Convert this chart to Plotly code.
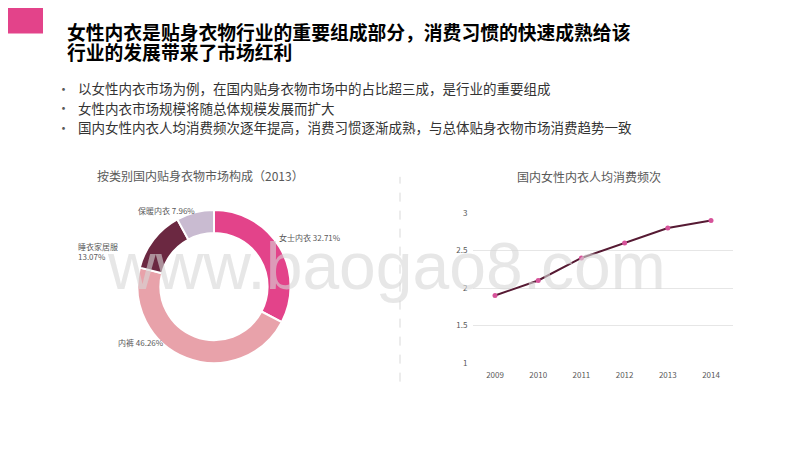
import plotly.graph_objects as go

# The page body has an 8px margin, so the figure is drawn 8px in from the
# window's top-left corner; size it to fill the rest of the 800x450 window.
OFF = 8
W, H = 800 - OFF, 450 - OFF

title_lines = ["女性内衣是贴身衣物行业的重要组成部分，消费习惯的快速成熟给该", "行业的发展带来了市场红利"]
bullets = [
    "以女性内衣市场为例，在国内贴身衣物市场中的占比超三成，是行业的重要组成",
    "女性内衣市场规模将随总体规模发展而扩大",
    "国内女性内衣人均消费频次逐年提高，消费习惯逐渐成熟，与总体贴身衣物市场消费趋势一致",
]

pie_title = "按类别国内贴身衣物市场构成（2013）"
pie_labels = ["女士内衣", "内裤", "睡衣家居服", "保暖内衣"]
pie_values = [32.71, 46.26, 13.07, 7.96]
pie_colors = ["#E3438A", "#E8A2AA", "#6B2841", "#C9BBD1"]

line_title = "国内女性内衣人均消费频次"
years = ["2009", "2010", "2011", "2012", "2013", "2014"]
freq = [1.9, 2.1, 2.4, 2.6, 2.8, 2.9]
y_ticks = [1, 1.5, 2, 2.5, 3]

CJK = "Noto Sans CJK SC"
GRAY = "#595959"


def px(x):
    return (x - OFF) / W


def py(y):
    return 1 - (y - OFF) / H


fig = go.Figure()

fig.add_trace(go.Pie(
    labels=pie_labels, values=pie_values, hole=0.70, sort=False,
    direction="clockwise", rotation=0,
    marker=dict(colors=pie_colors, line=dict(color="white", width=2)),
    textinfo="none", hoverinfo="label+percent", showlegend=False,
    domain=dict(x=[px(136), px(292)], y=[py(366), py(209)]),
))

fig.add_trace(go.Scatter(
    x=years, y=freq, mode="lines+markers",
    line=dict(color="#561A33", width=2),
    marker=dict(color="#D6539A", size=5),
    showlegend=False, xaxis="x", yaxis="y",
))

fig.update_layout(
    width=W, height=H,
    margin=dict(l=0, r=0, t=0, b=0),
    paper_bgcolor="white", plot_bgcolor="white",
    xaxis=dict(domain=[px(473.4), px(732.6)], type="category", range=[-0.5, 5.5],
               showgrid=False, zeroline=False, showline=False, ticks="",
               ticklabelstandoff=6,
               tickfont=dict(family=CJK, size=8, color=GRAY), anchor="y"),
    yaxis=dict(domain=[py(366), py(212)], range=[1, 3], tickvals=y_ticks,
               ticktext=[f"{v:g}" for v in y_ticks],
               showgrid=True, gridcolor="#E6E6E6", gridwidth=1, zeroline=False,
               showline=False, ticks="", ticklabelstandoff=5,
               tickfont=dict(family=CJK, size=8, color=GRAY),
               anchor="x"),
)

shapes = [
    dict(type="rect", xref="paper", yref="paper", x0=px(0), x1=px(43), y0=py(28), y1=py(0),
         fillcolor="#E3438A", line=dict(width=0), layer="below"),
    dict(type="line", xref="paper", yref="paper", x0=px(400), x1=px(400), y0=py(385), y1=py(175),
         line=dict(color="#D9D9D9", width=1, dash="dash")),
]
fig.update_layout(shapes=shapes)

ann = []
for i, t in enumerate(title_lines):
    ann.append(dict(text="<b>" + t + "</b>", x=px(65), y=py(26 + 20 * i), xref="paper", yref="paper",
                    xanchor="left", yanchor="middle", showarrow=False,
                    font=dict(family=CJK, size=18.8, color="black")))
for i, t in enumerate(bullets):
    yy = py(84 + 20 * i)
    ann.append(dict(text="•", x=px(63), y=yy, xref="paper", yref="paper",
                    xanchor="center", yanchor="middle", showarrow=False,
                    font=dict(family=CJK, size=13, color="#595959")))
    ann.append(dict(text=t, x=px(76), y=yy, xref="paper", yref="paper",
                    xanchor="left", yanchor="middle", showarrow=False,
                    font=dict(family=CJK, size=13.5, color="#333333")))

ann.append(dict(text=pie_title, x=px(200), y=py(174), xref="paper", yref="paper",
                xanchor="center", yanchor="middle", showarrow=False,
                font=dict(family=CJK, size=12, color=GRAY)))
ann.append(dict(text=line_title, x=px(589), y=py(175), xref="paper", yref="paper",
                xanchor="center", yanchor="middle", showarrow=False,
                font=dict(family=CJK, size=12, color=GRAY)))

label_pos = [(277, 237, "left"), (116, 345, "left"), (76, 252, "left"), (136, 210, "left")]
for (lx, ly, anc), lab, val in zip(label_pos, pie_labels, pie_values):
    txt = f"{lab}<br>{val:.2f}%" if lab == "睡衣家居服" else f"{lab} {val:.2f}%"
    ann.append(dict(text=txt, x=px(lx), y=py(ly), xref="paper", yref="paper",
                    xanchor=anc, yanchor="middle", align="left", showarrow=False,
                    font=dict(family=CJK, size=8, color=GRAY)))

ann.append(dict(text="www.baogao8.com", x=px(386), y=py(266), xref="paper", yref="paper",
                xanchor="center", yanchor="middle", showarrow=False,
                font=dict(family="Liberation Sans", size=66, color="rgba(215,215,215,0.6)")))

fig.update_layout(annotations=ann)

fig.write_html("out.html")
